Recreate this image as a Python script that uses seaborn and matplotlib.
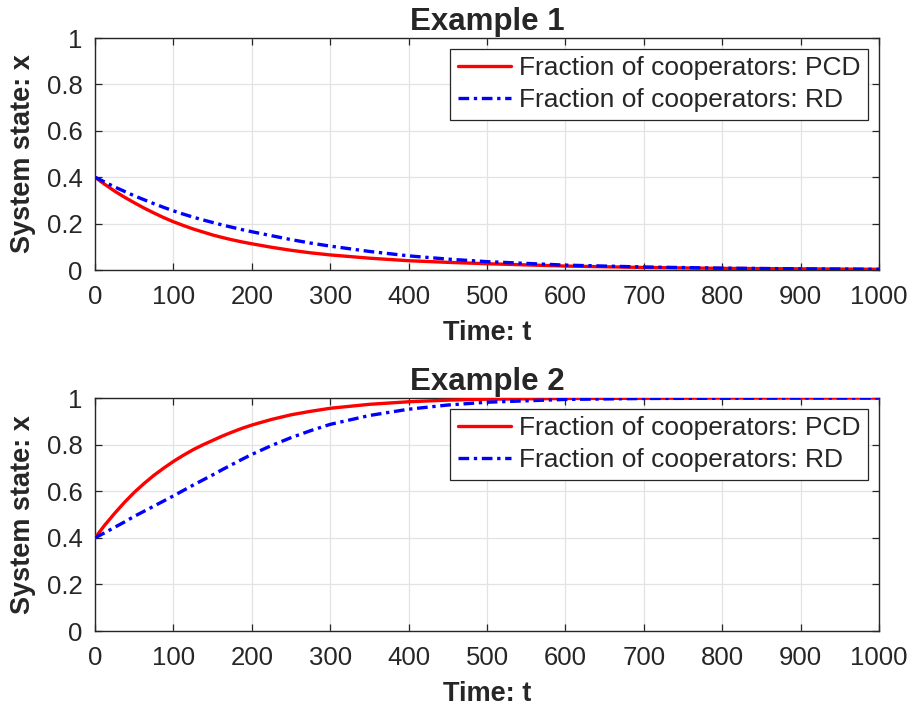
import numpy as np
import pandas as pd
import matplotlib
matplotlib.use("Agg")
import matplotlib.pyplot as plt
import seaborn as sns

# ---- data ----
t = [0, 12.5, 25, 37.5, 50, 62.5, 75, 87.5, 100, 112.5, 125, 137.5, 150, 162.5,
     175, 187.5, 200, 225, 250, 275, 300, 350, 400, 450, 500, 600, 700, 800, 900, 1000]

ex1_pcd = [0.400, 0.369, 0.340, 0.314, 0.290, 0.267, 0.246, 0.226, 0.208, 0.192,
           0.177, 0.164, 0.151, 0.140, 0.130, 0.121, 0.113, 0.098, 0.085, 0.074,
           0.065, 0.051, 0.040, 0.033, 0.027, 0.017, 0.011, 0.007, 0.005, 0.003]
ex1_rd = [0.400, 0.379, 0.358, 0.339, 0.320, 0.303, 0.286, 0.270, 0.255, 0.241,
          0.228, 0.216, 0.205, 0.194, 0.184, 0.174, 0.165, 0.148, 0.131, 0.116,
          0.103, 0.080, 0.061, 0.047, 0.036, 0.021, 0.013, 0.008, 0.005, 0.003]

ex2_pcd = [0.400, 0.455, 0.505, 0.552, 0.595, 0.633, 0.668, 0.699, 0.728, 0.754,
           0.778, 0.799, 0.818, 0.837, 0.854, 0.870, 0.884, 0.908, 0.928, 0.943,
           0.956, 0.973, 0.984, 0.991, 0.995, 0.998, 0.999, 1.000, 1.000, 1.000]
ex2_rd = [0.400, 0.422, 0.445, 0.468, 0.492, 0.514, 0.536, 0.558, 0.580, 0.603,
          0.626, 0.648, 0.670, 0.693, 0.715, 0.737, 0.758, 0.796, 0.830, 0.860,
          0.887, 0.925, 0.952, 0.970, 0.982, 0.994, 0.998, 0.999, 1.000, 1.000]

titles = ["Example 1", "Example 2"]
label_pcd = "Fraction of cooperators: PCD"
label_rd = "Fraction of cooperators: RD"
xticks = list(range(0, 1001, 100))
yticks = [0, 0.2, 0.4, 0.6, 0.8, 1]
ytick_labels = ["0", "0.2", "0.4", "0.6", "0.8", "1"]

sns.set_style("ticks")
plt.rcParams["font.family"] = ["Liberation Sans", "DejaVu Sans"]

dark = "#262626"
fig = plt.figure(figsize=(9.13, 7.16), dpi=100)
ax1 = fig.add_axes([0.1041, 0.6229, 0.8587, 0.3240])
ax2 = fig.add_axes([0.1041, 0.1187, 0.8587, 0.3254])

for ax, title, pcd, rd in [(ax1, titles[0], ex1_pcd, ex1_rd),
                           (ax2, titles[1], ex2_pcd, ex2_rd)]:
    df = pd.DataFrame({"t": t, "pcd": pcd, "rd": rd})
    sns.lineplot(data=df, x="t", y="pcd", ax=ax, color="#ff0000", lw=2.4,
                 label=label_pcd, zorder=3)
    sns.lineplot(data=df, x="t", y="rd", ax=ax, color="#0000ff", lw=2.4,
                 linestyle=(0, (3.2, 1.4, 1.0, 1.4)), label=label_rd, zorder=4)
    ax.set_xlim(0, 1000)
    ax.set_ylim(0, 1)
    ax.set_xticks(xticks)
    ax.set_xticklabels([str(v) for v in xticks])
    ax.set_yticks(yticks)
    ax.set_yticklabels(ytick_labels)
    ax.grid(True, color="#e3e3e3", lw=0.9)
    ax.set_axisbelow(True)
    for s in ax.spines.values():
        s.set_visible(True)
        s.set_color(dark)
        s.set_linewidth(1.0)
    ax.tick_params(direction="in", length=5, width=0.9, color=dark,
                   labelsize=18.5, labelcolor=dark, top=True, right=True)
    ax.tick_params(axis="x", pad=11)
    ax.tick_params(axis="y", pad=9)
    ax.set_xlabel("Time: t", fontsize=19.5, fontweight="bold", labelpad=8)
    ax.set_ylabel("System state: x", fontsize=19.5, fontweight="bold", labelpad=8)
    ax.set_title(title, fontsize=22.5, fontweight="bold", pad=6)
    leg = ax.legend(loc="upper right", fontsize=19, frameon=True, fancybox=False,
                    borderaxespad=0.4, handlelength=2.0, handletextpad=0.3,
                    labelspacing=0.3, borderpad=0.3)
    leg.get_frame().set_edgecolor(dark)
    leg.get_frame().set_linewidth(0.9)
    leg.get_frame().set_alpha(1)

fig.savefig("out.png", dpi=100)
